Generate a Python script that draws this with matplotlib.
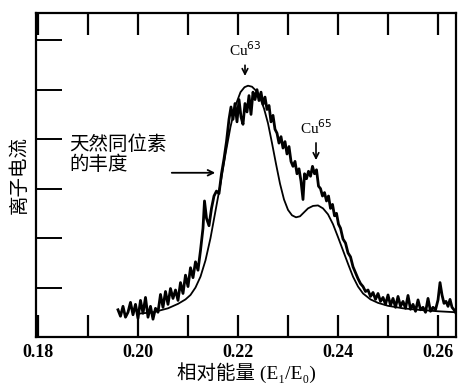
import matplotlib.pyplot as plt

plt.rcParams['font.family'] = ['Liberation Serif', 'Noto Sans CJK SC', 'DejaVu Sans']

meas_x = [0.1960, 0.1965, 0.1970, 0.1975, 0.1980, 0.1985, 0.1990, 0.1995,
          0.2000, 0.2005, 0.2010, 0.2015, 0.2020, 0.2025, 0.2030, 0.2035,
          0.2040, 0.2045, 0.2050, 0.2055, 0.2060, 0.2065, 0.2070, 0.2075,
          0.2080, 0.2085, 0.2090, 0.2095, 0.2100, 0.2105, 0.2110, 0.2115,
          0.2120, 0.2125, 0.2130, 0.2133, 0.2137, 0.2142, 0.2147, 0.2152,
          0.2157, 0.2162, 0.2167, 0.2172, 0.2177, 0.2182, 0.2186, 0.2190,
          0.2194, 0.2198, 0.2202, 0.2206, 0.2210, 0.2214, 0.2218, 0.2222,
          0.2226, 0.2230, 0.2234, 0.2238, 0.2242, 0.2246, 0.2250, 0.2254,
          0.2258, 0.2262, 0.2266, 0.2270, 0.2274, 0.2278, 0.2282, 0.2286,
          0.2290, 0.2294, 0.2298, 0.2302, 0.2306, 0.2310, 0.2314, 0.2318,
          0.2322, 0.2326, 0.2330, 0.2333, 0.2337, 0.2341, 0.2345, 0.2349,
          0.2353, 0.2357, 0.2361, 0.2365, 0.2369, 0.2373, 0.2377, 0.2381,
          0.2385, 0.2389, 0.2393, 0.2397, 0.2401, 0.2405, 0.2410, 0.2415,
          0.2420, 0.2425, 0.2430, 0.2435, 0.2440, 0.2445, 0.2450, 0.2455,
          0.2460, 0.2465, 0.2470, 0.2475, 0.2480, 0.2485, 0.2490, 0.2495,
          0.2500, 0.2505, 0.2510, 0.2515, 0.2520, 0.2525, 0.2530, 0.2535,
          0.2540, 0.2545, 0.2550, 0.2555, 0.2560, 0.2565, 0.2570, 0.2575,
          0.2580, 0.2585, 0.2590, 0.2595, 0.2600, 0.2604, 0.2608, 0.2612,
          0.2616, 0.2620, 0.2624, 0.2628, 0.2632, 0.2636]
meas_y = [0.55, 0.42, 0.62, 0.40, 0.50, 0.70, 0.45, 0.66,
          0.38, 0.74, 0.48, 0.80, 0.40, 0.62, 0.36, 0.58,
          0.50, 0.86, 0.60, 0.92, 0.66, 0.98, 0.78, 0.95,
          0.74, 1.10, 0.88, 1.25, 1.02, 1.40, 1.20, 1.52,
          1.35, 1.75, 2.20, 2.75, 2.40, 2.25, 2.60, 2.85,
          2.95, 2.90, 3.30, 3.60, 3.95, 4.40, 4.65, 4.40,
          4.72, 4.35, 4.80, 4.45, 4.30, 4.72, 4.55, 4.88,
          4.50, 4.95, 4.80, 5.00, 4.78, 4.95, 4.70, 4.85,
          4.60, 4.68, 4.35, 4.48, 4.20, 4.12, 3.92, 4.05,
          3.82, 3.95, 3.70, 3.85, 3.55, 3.45, 3.55, 3.30,
          3.40, 3.15, 2.78, 3.30, 3.20, 3.35, 3.25, 3.45,
          3.30, 3.38, 3.05, 3.00, 2.85, 2.92, 2.75, 2.85,
          2.60, 2.68, 2.45, 2.50, 2.28, 2.20, 1.98, 1.90,
          1.70, 1.62, 1.42, 1.30, 1.18, 1.08, 1.02, 0.92,
          0.95, 0.82, 0.90, 0.76, 0.88, 0.72, 0.80, 0.66,
          0.85, 0.64, 0.78, 0.60, 0.82, 0.62, 0.72, 0.58,
          0.84, 0.56, 0.66, 0.52, 0.75, 0.55, 0.60, 0.50,
          0.78, 0.52, 0.60, 0.55, 0.75, 1.10, 0.85, 0.68,
          0.72, 0.62, 0.76, 0.60, 0.55, 0.48]

# curve for natural isotope abundance (smooth)
calc_x = [0.2000, 0.2030, 0.2060, 0.2080, 0.2095, 0.2105, 0.2115, 0.2125,
          0.2135, 0.2145, 0.2155, 0.2165, 0.2175, 0.2185, 0.2195, 0.2205,
          0.2213, 0.2220, 0.2228, 0.2236, 0.2244, 0.2252, 0.2260, 0.2268,
          0.2276, 0.2284, 0.2292, 0.2300, 0.2308, 0.2316, 0.2324, 0.2332,
          0.2340, 0.2350, 0.2360, 0.2370, 0.2380, 0.2390, 0.2400, 0.2410,
          0.2420, 0.2430, 0.2440, 0.2450, 0.2465, 0.2480, 0.2500, 0.2530,
          0.2560, 0.2600, 0.2636]
calc_y = [0.47, 0.50, 0.58, 0.67, 0.76, 0.85, 1.00, 1.22,
          1.55, 2.00, 2.55, 3.10, 3.70, 4.25, 4.68, 4.95,
          5.05, 5.08, 5.06, 4.98, 4.84, 4.62, 4.32, 3.92,
          3.50, 3.10, 2.78, 2.57, 2.46, 2.42, 2.44, 2.52,
          2.60, 2.65, 2.66, 2.60, 2.48, 2.28, 2.02, 1.75,
          1.48, 1.22, 1.02, 0.88, 0.76, 0.69, 0.63, 0.58,
          0.55, 0.52, 0.50]

x_ticks = [0.18, 0.19, 0.20, 0.21, 0.22, 0.23, 0.24, 0.25, 0.26]
x_labels = ['0.18', '', '0.20', '', '0.22', '', '0.24', '', '0.26']
y_ticks = [1, 2, 3, 4, 5, 6]

fig = plt.figure(figsize=(4.59, 3.87), dpi=100)
ax = fig.add_axes([0.0784, 0.1292, 0.9151, 0.8372])

ax.plot(meas_x, meas_y, color='black', lw=2.0)
ax.plot(calc_x, calc_y, color='black', lw=1.3)

ax.set_xlim(0.1796, 0.2636)
ax.set_ylim(0, 6.55)
ax.set_xticks(x_ticks)
ax.set_xticklabels(x_labels, fontsize=13, fontweight='bold')
ax.set_yticks(y_ticks)
ax.set_yticklabels([])
ax.tick_params(axis='x', direction='in', length=16, width=1.6, top=True, pad=5)
ax.tick_params(axis='y', direction='in', length=19, width=1.4)
for s in ax.spines.values():
    s.set_linewidth(1.6)

ax.set_xlabel('相对能量 (E₁/E₀)', fontsize=14, labelpad=1)
ax.set_ylabel('离子电流', fontsize=14, labelpad=2)

# peak labels
ax.annotate('', xy=(0.2214, 5.22), xytext=(0.2214, 5.55),
            arrowprops=dict(arrowstyle='->', color='black', lw=1.2))
ax.text(0.2214, 5.62, 'Cu$^{63}$', ha='center', va='bottom', fontsize=11)
ax.annotate('', xy=(0.2356, 3.52), xytext=(0.2356, 3.98),
            arrowprops=dict(arrowstyle='->', color='black', lw=1.2))
ax.text(0.2356, 4.05, 'Cu$^{65}$', ha='center', va='bottom', fontsize=11)

ax.text(0.1862, 3.68, '天然同位素\n的丰度', ha='left', va='center',
        fontsize=14, linespacing=1.1)
ax.annotate('', xy=(0.2160, 3.32), xytext=(0.2062, 3.32),
            arrowprops=dict(arrowstyle='->', color='black', lw=1.3))

fig.savefig('out.png', dpi=100)
